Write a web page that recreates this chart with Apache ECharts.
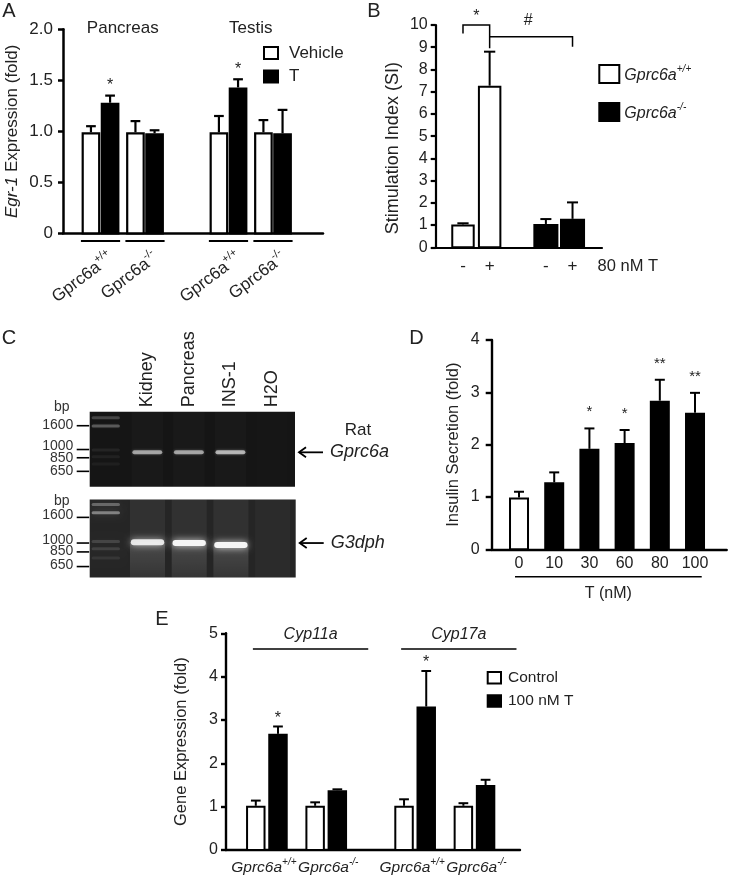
<!DOCTYPE html>
<html><head><meta charset="utf-8">
<script src="https://cdn.jsdelivr.net/npm/echarts@6/dist/echarts.min.js"></script>
<style>html,body{margin:0;padding:0;background:#fff}#c{width:729px;height:877px}</style>
</head><body><div id="c"></div>
<script>
// ================= DATA =================
// Panel A : Egr-1 expression
const aTissues = ['Pancreas', 'Testis'];
const aGenotypes = ['+/+', '-/-', '+/+', '-/-'];
const aVehicle = [0.99, 0.99, 0.99, 0.99];
const aVehicleErr = [0.06, 0.11, 0.16, 0.12];
const aT = [1.28, 0.98, 1.43, 0.98];
const aTErr = [0.07, 0.03, 0.08, 0.23];
const aTSig = ['*', '', '*', ''];
// Panel B : stimulation index
const bTreatment = ['-', '+'];
const bWT = [1.03, 7.27];
const bWTErr = [0.05, 1.53];
const bKO = [1.05, 1.28];
const bKOErr = [0.22, 0.74];
const bDoseLabel = '80 nM T';
// Panel C : RT-PCR gel
const cLanes = ['', 'Kidney', 'Pancreas', 'INS-1', 'H2O'];
const cMarkers = [1600, 1000, 850, 650];
const cLadder1Bp = [1875, 1590, 990, 868, 752];
const cLadder1Int = [0.2, 0.28, 0.07, 0.06, 0.05];
const cLadder2Bp = [2025, 1738, 1030, 900, 760];
const cLadder2Int = [0.3, 0.42, 0.14, 0.12, 0.08];
const cGprc6aBp = [946, 946, 946, 946];
const cGprc6aInt = [0.55, 0.55, 0.62, 0];
const cG3dphBp = [1015, 1000, 965, 1000];
const cG3dphInt = [0.9, 1.0, 1.0, 0];
// Panel D : insulin secretion
const dDose = ['0', '10', '30', '60', '80', '100'];
const dInsulin = [0.99, 1.28, 1.92, 2.03, 2.84, 2.61];
const dErr = [0.11, 0.19, 0.39, 0.25, 0.40, 0.38];
const dSig = ['', '', '*', '*', '**', '**'];
// Panel E : gene expression
const eGenes = ['Cyp11a', 'Cyp17a'];
const eGenotypes = ['+/+', '-/-', '+/+', '-/-'];
const eControl = [1.02, 1.02, 1.02, 1.02];
const eControlErr = [0.12, 0.08, 0.15, 0.06];
const eT = [2.68, 1.38, 3.31, 1.50];
const eTErr = [0.17, 0.02, 0.82, 0.12];
const eTSig = ['*', '', '*', ''];

// ================= LAYOUT / STYLE =================
const FONT = 'Liberation Sans, Arial, sans-serif';
const INK = '#222';
const aPos = aGenotypes.map((g, i) => i + Math.floor(i / 2) * 0.876);
const bPosWT = bTreatment.map((t, i) => i);
const bPosKO = bTreatment.map((t, i) => i + 3.11);
const dPos = dDose.map((d, i) => i);
const ePos = eGenotypes.map((g, i) => i + Math.floor(i / 2) * 0.498);
const laneIdx = cLanes.map((l, i) => i);

function geno(g) { return '{g|Gprc6a}{s|' + g + '}'; }
function genoRich(size, italic) {
  const st = italic ? 'italic' : 'normal';
  const ss = Math.round(size * 0.64);
  return {
    g: { fontSize: size, fontStyle: st, fontFamily: FONT, color: INK, fill: INK, lineHeight: size + 3, verticalAlign: 'bottom' },
    s: { fontSize: ss, fontStyle: st, fontFamily: FONT, color: INK, fill: INK, lineHeight: ss, verticalAlign: 'top' }
  };
}
function txt(x, y, text, o) {
  o = o || {};
  return { type: 'text', x, y, rotation: o.rotation || 0, silent: true,
    style: Object.assign({ text, fill: INK, fontFamily: FONT, fontSize: 16, align: 'center', verticalAlign: 'middle' }, o.style || {}) };
}
function ln(x1, y1, x2, y2, w) {
  return { type: 'line', silent: true, shape: { x1, y1, x2, y2 }, style: { stroke: '#000', lineWidth: w || 2 } };
}

function barSeries(cfg) {
  return {
    type: 'custom', name: cfg.name, xAxisIndex: cfg.grid, yAxisIndex: cfg.grid, silent: true,
    itemStyle: { color: Array.isArray(cfg.fill) ? '#000' : cfg.fill, borderColor: '#000', borderWidth: 2 },
    data: cfg.vals.map((v, i) => [cfg.xs[i], v, v + cfg.errs[i]]),
    renderItem: (params, api) => {
      const i = params.dataIndex;
      const x = api.value(0), v = api.value(1), top = api.value(2);
      const fill = Array.isArray(cfg.fill) ? cfg.fill[i] : cfg.fill;
      const bl = api.coord([x - cfg.hw, 0]), tr = api.coord([x + cfg.hw, v]);
      const c = api.coord([x, v]), t = api.coord([x, top]);
      const w = tr[0] - bl[0], cap = w * (cfg.capFrac || 0.26);
      const lw = cfg.lw || 2;
      const kids = [
        ln(c[0], c[1], t[0], t[1], lw),
        ln(t[0] - cap, t[1], t[0] + cap, t[1], lw),
        { type: 'rect', shape: { x: bl[0] + lw / 2, y: tr[1] + lw / 2, width: w - lw, height: bl[1] - tr[1] - lw / 2 },
          style: { fill, stroke: '#000', lineWidth: lw } }
      ];
      if (cfg.sig && cfg.sig[i]) {
        kids.push(txt(t[0], t[1] - cfg.sigGap + cfg.sigFont * 0.25, cfg.sig[i], { style: { fontSize: cfg.sigFont } }));
      }
      return { type: 'group', children: kids };
    }
  };
}
function annot(grid, point, fn) {
  return { type: 'custom', xAxisIndex: grid, yAxisIndex: grid, silent: true, data: [point],
    renderItem: (params, api) => ({ type: 'group', children: fn(api) }) };
}

// ---------- annotations ----------
function annotA(api) {
  const kids = [];
  const y0 = api.coord([0, 0])[1];
  aTissues.forEach((t, k) => {
    const p = api.coord([(aPos[2 * k] + aPos[2 * k + 1]) / 2, 2]);
    kids.push(txt(p[0], p[1] - 1, t, { style: { fontSize: 17 } }));
  });
  aGenotypes.forEach((g, i) => {
    const p = api.coord([aPos[i], 0]);
    kids.push(ln(p[0] - 19.6, y0 + 7.7, p[0] + 19.6, y0 + 7.7, 1.8));
    kids.push({ type: 'text', x: p[0] + 10, y: y0 + 21.5, rotation: 37 * Math.PI / 180, silent: true,
      style: { text: geno(g), rich: genoRich(17, false), align: 'right', verticalAlign: 'middle', fill: INK, fontFamily: FONT } });
  });
  return kids;
}
function annotB(api) {
  const kids = [];
  const y0 = api.coord([0, 0])[1];
  const xsAll = bPosWT.concat(bPosKO);
  const labs = bTreatment.concat(bTreatment);
  xsAll.forEach((x, i) => {
    const p = api.coord([x, 0]);
    kids.push(txt(p[0], y0 + 19.4, labs[i], { style: { fontSize: 17 } }));
  });
  const last = api.coord([bPosKO[1], 0]);
  kids.push(txt(last[0] + 25, y0 + 19.4, bDoseLabel, { style: { fontSize: 16.5, align: 'left' } }));
  // bracket 1 : WT - vs WT +
  const a1 = api.coord([bPosWT[0], 10.0]), a2 = api.coord([bPosWT[1], 10.0]);
  const a1b = api.coord([bPosWT[0], 9.62]), a2b = api.coord([bPosWT[1], 8.95]);
  kids.push({ type: 'polyline', silent: true, shape: { points: [[a1b[0], a1b[1]], [a1[0], a1[1]], [a2[0], a2[1]], [a2b[0], a2b[1]]] }, style: { stroke: '#000', lineWidth: 1.5, fill: null } });
  kids.push(txt((a1[0] + a2[0]) / 2, api.coord([0, 10.55])[1] + 4, '*', { style: { fontSize: 16 } }));
  // bracket 2 : WT + vs KO +
  const b1 = api.coord([bPosWT[1], 9.47]), b2 = api.coord([bPosKO[1], 9.47]);
  const b2b = api.coord([bPosKO[1], 9.02]);
  kids.push({ type: 'polyline', silent: true, shape: { points: [[b1[0], b1[1]], [b2[0], b2[1]], [b2b[0], b2b[1]]] }, style: { stroke: '#000', lineWidth: 1.5, fill: null } });
  kids.push(txt((b1[0] + b2[0]) / 2 - 3, api.coord([0, 10.22])[1], '#', { style: { fontSize: 16 } }));
  return kids;
}
function annotD(api) {
  const kids = [];
  const y0 = api.coord([0, 0])[1];
  dDose.forEach((d, i) => {
    const p = api.coord([dPos[i], 0]);
    kids.push(txt(p[0], y0 + 14, d, { style: { fontSize: 16 } }));
  });
  const f = api.coord([dPos[0], 0]), l = api.coord([dPos[dPos.length - 1], 0]);
  const x1 = f[0] - 4, x2 = l[0] + 6.7;
  kids.push(ln(x1, y0 + 27.4, x2, y0 + 27.4, 1.5));
  kids.push(txt((x1 + x2) / 2, y0 + 44, 'T (nM)', { style: { fontSize: 16 } }));
  return kids;
}
function annotE(api) {
  const kids = [];
  const y0 = api.coord([0, 0])[1];
  eGenes.forEach((g, k) => {
    const p1 = api.coord([ePos[2 * k], 4.64]), p2 = api.coord([ePos[2 * k + 1], 4.64]);
    const x1 = p1[0] - 14, x2 = p2[0] + 42;
    kids.push(ln(x1, p1[1], x2, p1[1], 1.5));
    kids.push(txt((x1 + x2) / 2, p1[1] - 14, g, { style: { fontSize: 16, fontStyle: 'italic' } }));
  });
  eGenotypes.forEach((g, i) => {
    const p = api.coord([ePos[i], 0]);
    kids.push({ type: 'text', x: p[0] + (i % 2 ? 2 : -3), y: y0 + 16.5, silent: true,
      style: { text: geno(g), rich: genoRich(15.5, true), align: 'center', verticalAlign: 'middle', fill: INK, fontFamily: FONT } });
  });
  return kids;
}
function gelAnnot(cfg) {
  return api => {
    const kids = [];
    const topL = api.coord([-0.386, cfg.max]);
    const gx = topL[0], gy = topL[1];
    cMarkers.forEach((bp, k) => {
      const y = api.coord([0, bp])[1];
      kids.push(ln(gx - 13, y, gx - 0.5, y, 1.6));
      kids.push(txt(gx - 16.4, y + cfg.labShift[k], String(bp), { style: { fontSize: 14, align: 'right', fill: '#333' } }));
    });
    kids.push(txt(gx - 28, gy + cfg.bpDy, 'bp', { style: { fontSize: 14, fill: '#333' } }));
    if (cfg.laneLabels) {
      cLanes.forEach((l, i) => {
        if (!l) return;
        const p = api.coord([laneIdx[i], cfg.max]);
        kids.push(txt(p[0], p[1] - 4.4, l, { rotation: Math.PI / 2, style: { fontSize: 18, align: 'left' } }));
      });
    }
    const ay = api.coord([0, cfg.arrowBp])[1];
    const ax = api.coord([4.554, cfg.arrowBp])[0] + 3;
    kids.push(ln(ax + 1, ay, ax + 25, ay, 1.8));
    kids.push({ type: 'polyline', silent: true, shape: { points: [[ax + 8, ay - 5], [ax + 1, ay], [ax + 8, ay + 5]] }, style: { stroke: '#000', lineWidth: 1.8, fill: null } });
    kids.push(txt(ax + 32, ay, cfg.gene, { style: { fontSize: 18, fontStyle: 'italic', align: 'left' } }));
    if (cfg.species) kids.push(txt(ax + 60, ay - 22.5, cfg.species, { style: { fontSize: 17 } }));
    return kids;
  };
}
function gelLanes(grid, bands, cfg) {
  return {
    type: 'custom', xAxisIndex: grid, yAxisIndex: grid, silent: true,
    data: bands,
    renderItem: (params, api) => {
      const lane = api.value(0), bp = api.value(1), inten = api.value(2);
      const tl = api.coord([lane - cfg.hw, cfg.max]), br = api.coord([lane + cfg.hw, cfg.min]);
      const by = api.coord([lane, bp])[1];
      const kids = [{ type: 'rect', shape: { x: tl[0], y: tl[1], width: br[0] - tl[0], height: br[1] - tl[1] },
        style: { fill: 'rgba(255,255,255,' + (inten > 0 ? cfg.base : cfg.empty) + ')' } }];
      if (inten > 0 && cfg.smear) {
        kids.push({ type: 'rect', shape: { x: tl[0], y: by, width: br[0] - tl[0], height: br[1] - by },
          style: { fill: new echarts.graphic.LinearGradient(0, 0, 0, 1, [
            { offset: 0, color: 'rgba(255,255,255,' + cfg.smear + ')' },
            { offset: 1, color: 'rgba(255,255,255,0.02)' }]) } });
      }
      return { type: 'group', children: kids };
    }
  };
}
function gelBands(grid, bands, cfg) {
  return {
    type: 'custom', xAxisIndex: grid, yAxisIndex: grid, silent: true,
    data: bands,
    renderItem: (params, api) => {
      const lane = api.value(0), bp = api.value(1), inten = api.value(2);
      if (!(inten > 0)) return { type: 'group', children: [] };
      const hw = lane === 0 ? 0.34 : cfg.hw;
      const h = lane === 0 ? cfg.ladderH : cfg.h;
      const l = api.coord([lane - hw, bp]), r = api.coord([lane + hw, bp]);
      return { type: 'rect', shape: { x: l[0], y: l[1] - h / 2, width: r[0] - l[0], height: h, r: h / 2 },
        style: { fill: 'rgba(245,245,245,' + inten + ')', shadowBlur: cfg.blur, shadowColor: 'rgba(255,255,255,' + (inten * 0.8) + ')' } };
    }
  };
}

const gel1Bands = cLadder1Bp.map((bp, k) => [0, bp, cLadder1Int[k]])
  .concat(cGprc6aBp.map((bp, k) => [k + 1, bp, cGprc6aInt[k]]));
const gel2Bands = cLadder2Bp.map((bp, k) => [0, bp, cLadder2Int[k]])
  .concat(cG3dphBp.map((bp, k) => [k + 1, bp, cG3dphInt[k]]));
const gel1LaneData = cGprc6aBp.map((bp, k) => [k + 1, bp, cGprc6aInt[k]]);
const gel2LaneData = cG3dphBp.map((bp, k) => [k + 1, bp, cG3dphInt[k]]);

function yAx(grid, max, interval, c) {
  return {
    gridIndex: grid, type: 'value', min: 0, max, interval,
    axisLine: { show: true, onZero: false, lineStyle: { color: '#000', width: c.lw } },
    axisTick: { show: true, inside: false, length: c.tick, lineStyle: { color: '#000', width: c.lw } },
    axisLabel: { show: true, fontSize: c.fs, margin: c.margin, color: INK, fontFamily: FONT, formatter: c.fmt },
    splitLine: { show: false },
    name: c.name, nameLocation: 'middle', nameRotate: 90, nameGap: c.gap, nameMoveOverlap: false,
    nameTextStyle: Object.assign({ fontSize: c.nfs, color: INK, fontFamily: FONT }, c.nts || {})
  };
}
function xAx(grid, min, max, lw) {
  return { gridIndex: grid, type: 'value', min, max,
    axisLine: { show: true, onZero: false, lineStyle: { color: '#000', width: lw } },
    axisTick: { show: false }, axisLabel: { show: false }, splitLine: { show: false } };
}
function hidX(grid, min, max) { return { gridIndex: grid, type: 'value', min, max, show: false, axisLine: { onZero: false }, splitLine: { show: false } }; }
function hidYLog(grid, min, max) { return { gridIndex: grid, type: 'log', logBase: 10, min, max, show: false, axisLine: { onZero: false }, splitLine: { show: false } }; }

const G1 = { min: 480, max: 2110 }, G2 = { min: 532, max: 2220 };

const option = {
  animation: false,
  backgroundColor: '#fff',
  textStyle: { fontFamily: FONT, color: INK },
  grid: [
    { left: 63, top: 29.3, width: 260, height: 204, outerBoundsMode: 'none' },
    { left: 435.7, top: 25, width: 166.3, height: 222.3, outerBoundsMode: 'none' },
    { left: 89.7, top: 411.7, width: 205.3, height: 75, show: true, backgroundColor: '#151515', borderWidth: 0, outerBoundsMode: 'none' },
    { left: 89.7, top: 499.5, width: 206, height: 78, show: true, backgroundColor: '#252525', borderWidth: 0, outerBoundsMode: 'none' },
    { left: 491.7, top: 340, width: 235, height: 209.3, outerBoundsMode: 'none' },
    { left: 226, top: 633.3, width: 294, height: 216.7, outerBoundsMode: 'none' }
  ],
  xAxis: [
    xAx(0, -0.843, 5.0, 2.5),
    xAx(1, -1.024, 5.216, 2.2),
    hidX(2, -0.386, 4.554),
    hidX(3, -0.386, 4.554),
    xAx(4, -0.776, 5.9, 2.4),
    xAx(5, -0.689, 4.265, 2.4)
  ],
  yAxis: [
    yAx(0, 2, 0.5, { lw: 2.5, tick: 5, fs: 17, margin: 10, fmt: v => v === 0 ? '0' : v.toFixed(1),
      name: '{i|Egr-1} Expression (fold)', gap: 42, nfs: 17,
      nts: { rich: { i: { fontStyle: 'italic', fontSize: 17, fontFamily: FONT, color: INK } } } }),
    yAx(1, 10, 1, { lw: 2.2, tick: 5, fs: 16, margin: 8, fmt: v => String(v),
      name: 'Stimulation Index (SI)', gap: 34, nfs: 18, nts: { padding: [0, 24, 0, 0] } }),
    hidYLog(2, G1.min, G1.max),
    hidYLog(3, G2.min, G2.max),
    yAx(4, 4, 1, { lw: 2.4, tick: 6, fs: 16, margin: 12, fmt: v => String(v),
      name: 'Insulin Secretion (fold)', gap: 30, nfs: 16.5 }),
    yAx(5, 5, 1, { lw: 2.4, tick: 5, fs: 16, margin: 8, fmt: v => String(v),
      name: 'Gene Expression (fold)', gap: 36, nfs: 16.5 })
  ],
  legend: [
    { left: 263, top: 44.5, orient: 'vertical', padding: 0, icon: 'rect', itemWidth: 14, itemHeight: 12, itemGap: 6.5,
      selectedMode: false, textStyle: { fontSize: 17, lineHeight: 17, color: INK, fontFamily: FONT, padding: [0, 0, 0, 6] },
      data: [{ name: 'Vehicle', itemStyle: { color: '#fff', borderColor: '#000', borderWidth: 2 } },
             { name: 'T', itemStyle: { color: '#000', borderColor: '#000', borderWidth: 2 } }] },
    { left: 598.3, top: 64, orient: 'vertical', padding: 0, icon: 'rect', itemWidth: 20, itemHeight: 18, itemGap: 18,
      selectedMode: false, formatter: n => geno(n.slice(6)),
      textStyle: { fontSize: 16, color: INK, fontFamily: FONT, rich: genoRich(16, true) },
      data: [{ name: 'Gprc6a+/+', itemStyle: { color: '#fff', borderColor: '#000', borderWidth: 2 } },
             { name: 'Gprc6a-/-', itemStyle: { color: '#000', borderColor: '#000', borderWidth: 2 } }] },
    { left: 486.7, top: 669.7, orient: 'vertical', padding: 0, icon: 'rect', itemWidth: 13.3, itemHeight: 11.6, itemGap: 7.3,
      selectedMode: false, textStyle: { fontSize: 15.5, lineHeight: 16, color: INK, fontFamily: FONT, padding: [0, 0, 0, 2] },
      data: [{ name: 'Control', itemStyle: { color: '#fff', borderColor: '#000', borderWidth: 2 } },
             { name: '100 nM T', itemStyle: { color: '#000', borderColor: '#000', borderWidth: 2 } }] }
  ],
  series: [
    barSeries({ name: 'Vehicle', grid: 0, xs: aPos.map(x => x - 0.215), vals: aVehicle, errs: aVehicleErr, hw: 0.21, fill: '#fff', lw: 2.2 }),
    barSeries({ name: 'T', grid: 0, xs: aPos.map(x => x + 0.215), vals: aT, errs: aTErr, hw: 0.21, fill: '#000', lw: 2.2,
      sig: aTSig, sigGap: 14, sigFont: 16 }),
    annot(0, [0, 0], annotA),
    barSeries({ name: 'Gprc6a+/+', grid: 1, xs: bPosWT, vals: bWT, errs: bWTErr, hw: 0.44, fill: '#fff', capFrac: 0.24 }),
    barSeries({ name: 'Gprc6a-/-', grid: 1, xs: bPosKO, vals: bKO, errs: bKOErr, hw: 0.47, fill: '#000', capFrac: 0.22 }),
    annot(1, [0, 0], annotB),
    gelLanes(2, gel1LaneData, { hw: 0.38, max: G1.max, min: G1.min, base: 0.018, empty: 0.008, smear: 0 }),
    gelBands(2, gel1Bands, { hw: 0.36, h: 4, ladderH: 3, blur: 3 }),
    annot(2, [0, 1000], gelAnnot({ max: G1.max, labShift: [-1, -3, 0, 0], bpDy: -5, laneLabels: true,
      arrowBp: cGprc6aBp[0], gene: 'Gprc6a', species: 'Rat' })),
    gelLanes(3, gel2LaneData, { hw: 0.42, max: G2.max, min: G2.min, base: 0.06, empty: 0.03, smear: 0.12 }),
    gelBands(3, gel2Bands, { hw: 0.4, h: 6, ladderH: 3, blur: 7 }),
    annot(3, [0, 1000], gelAnnot({ max: G2.max, labShift: [-2, -3, -1, -1], bpDy: 1.5, laneLabels: false,
      arrowBp: cG3dphBp[1], gene: 'G3dph' })),
    barSeries({ name: 'Insulin', grid: 4, xs: dPos, vals: dInsulin, errs: dErr, hw: 0.284,
      fill: dDose.map(d => d === '0' ? '#fff' : '#000'), sig: dSig, sigGap: 20, sigFont: 15, capFrac: 0.25 }),
    annot(4, [0, 0], annotD),
    barSeries({ name: 'Control', grid: 5, xs: ePos.map(x => x - 0.187), vals: eControl, errs: eControlErr, hw: 0.164, fill: '#fff', capFrac: 0.25 }),
    barSeries({ name: '100 nM T', grid: 5, xs: ePos.map(x => x + 0.187), vals: eT, errs: eTErr, hw: 0.164, fill: '#000',
      sig: eTSig, sigGap: 12, sigFont: 16, capFrac: 0.25 }),
    annot(5, [0, 0], annotE)
  ],
  graphic: [
    { type: 'text', x: 9, y: 11, style: { text: 'A', fontSize: 20, fontFamily: FONT, fill: INK, align: 'center', verticalAlign: 'middle' } },
    { type: 'text', x: 374, y: 11, style: { text: 'B', fontSize: 20, fontFamily: FONT, fill: INK, align: 'center', verticalAlign: 'middle' } },
    { type: 'text', x: 9, y: 338, style: { text: 'C', fontSize: 20, fontFamily: FONT, fill: INK, align: 'center', verticalAlign: 'middle' } },
    { type: 'text', x: 416.5, y: 338, style: { text: 'D', fontSize: 20, fontFamily: FONT, fill: INK, align: 'center', verticalAlign: 'middle' } },
    { type: 'text', x: 162, y: 619, style: { text: 'E', fontSize: 20, fontFamily: FONT, fill: INK, align: 'center', verticalAlign: 'middle' } }
  ]
};
const chart = echarts.init(document.getElementById('c'));
chart.setOption(option);
</script>
</body></html>
